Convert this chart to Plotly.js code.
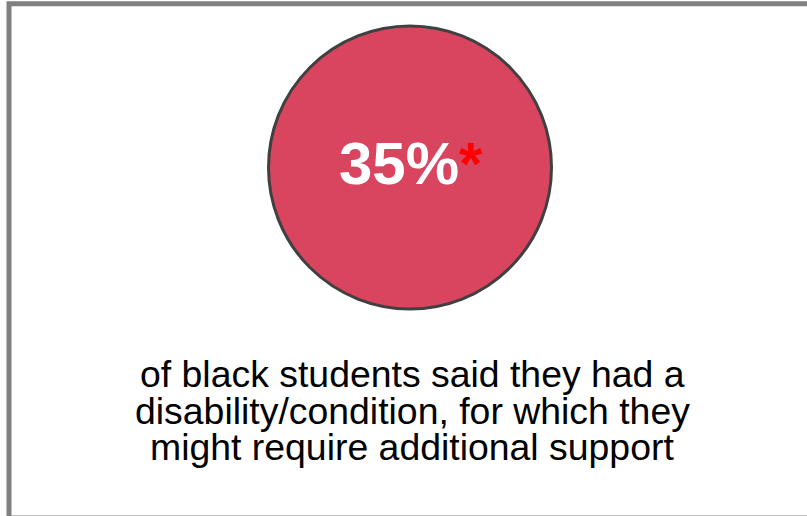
<!DOCTYPE html>
<html>
<head>
<meta charset="utf-8">
<script src="https://cdn.plot.ly/plotly-3.0.1.min.js"></script>
<style>html,body{margin:0;padding:0;background:#fff;}#chart{width:807px;height:516px;}</style>
</head>
<body>
<div id="chart"></div>
<script>
// Data
var statValue = 35;
var statSuffix = "%";
var footnoteMark = "*";
var captionLines = [
  "of black students said they had a",
  "disability/condition, for which they",
  "might require additional support"
];

var W = 807, H = 516;
var cx = 410, cy = 167.5;
var lineYs = [374, 410.5, 447];

var trace = {
  x: [cx], y: [cy],
  type: "scatter", mode: "markers",
  marker: {size: 283, color: "#d9455f", line: {color: "#404040", width: 3}},
  hoverinfo: "skip", showlegend: false
};

var annotations = [{
  x: 411, y: 163, xref: "x", yref: "y", showarrow: false,
  xanchor: "center", yanchor: "middle",
  text: "<b>" + statValue + statSuffix + "<span style='color:#ff0000'>" + footnoteMark + "</span></b>",
  font: {family: "Liberation Sans, Arial, sans-serif", size: 60, color: "#ffffff"}
}];
captionLines.forEach(function (t, i) {
  annotations.push({
    x: 412, y: lineYs[i], xref: "x", yref: "y", showarrow: false,
    xanchor: "center", yanchor: "middle", text: t,
    font: {family: "Liberation Sans, Arial, sans-serif", size: 37.4, color: "#000000"}
  });
});

var layout = {
  width: W, height: H,
  margin: {l: 0, r: 0, t: 0, b: 0},
  paper_bgcolor: "#ffffff", plot_bgcolor: "#ffffff",
  xaxis: {range: [0, W], visible: false, fixedrange: true},
  yaxis: {range: [H, 0], visible: false, fixedrange: true},
  shapes: [{
    type: "rect", xref: "x", yref: "y",
    x0: 9, x1: 815, y0: 3.7, y1: 518,
    line: {color: "#808080", width: 5}, fillcolor: "rgba(0,0,0,0)"
  }],
  annotations: annotations,
  showlegend: false
};

Plotly.newPlot("chart", [trace], layout, {displayModeBar: false, staticPlot: true});
</script>
</body>
</html>
